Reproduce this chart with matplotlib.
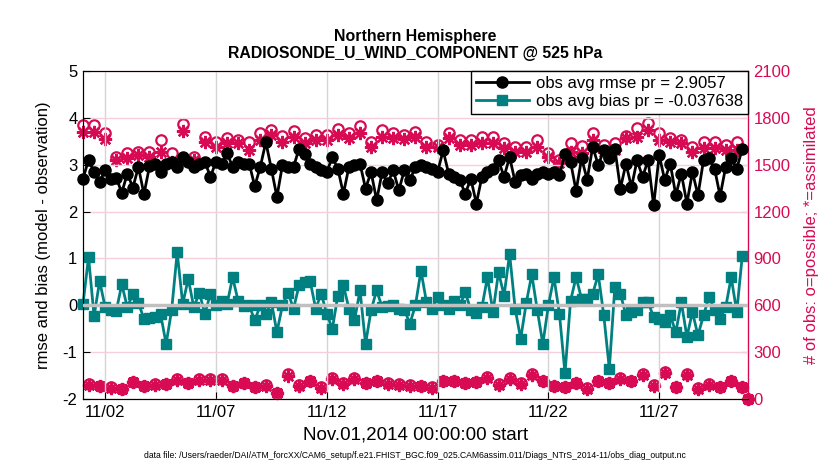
import pandas as pd
import matplotlib
matplotlib.use('Agg')
import matplotlib.pyplot as plt
import matplotlib.dates as mdates

plt.rcParams['font.family'] = ['Liberation Sans', 'DejaVu Sans']
plt.rcParams['axes.unicode_minus'] = False

# 6-hourly bins, Nov 1 00Z .. Dec 1 00Z
times = pd.date_range('2014-11-01 00:00', periods=121, freq='6h')

rmse = [2.70, 3.10, 2.84, 2.63, 2.88, 2.70, 2.72, 2.40, 2.81, 2.51,
        2.95, 2.37, 2.96, 3.02, 2.84, 3.02, 3.06, 2.95, 3.16, 3.06,
        2.95, 3.02, 3.06, 2.74, 3.06, 3.02, 3.25, 2.95, 3.06, 3.02,
        3.02, 2.54, 2.95, 3.48, 2.91, 2.31, 2.99, 2.95, 2.95, 3.34,
        3.23, 3.02, 2.95, 2.88, 2.84, 3.16, 2.91, 2.38, 2.95, 2.99,
        3.02, 2.49, 2.84, 2.24, 2.84, 2.60, 2.88, 2.45, 2.88, 2.67,
        2.95, 2.99, 2.95, 2.91, 2.84, 3.30, 2.81, 2.74, 2.67, 2.38,
        2.70, 2.17, 2.74, 2.84, 2.91, 3.09, 2.74, 3.16, 2.63, 2.78,
        2.81, 2.70, 2.81, 2.84, 2.81, 2.84, 2.77, 3.23, 3.06, 2.44,
        3.13, 2.68, 3.38, 2.99, 3.30, 3.13, 3.34, 2.49, 3.02, 2.52,
        3.09, 2.74, 3.09, 2.13, 3.20, 2.67, 3.02, 2.35, 2.81, 2.17,
        2.84, 2.35, 3.09, 3.13, 2.91, 2.33, 2.95, 3.13, 2.91, 3.34]

bias = [0.03, 1.03, -0.23, 0.52, -0.04, -0.10, -0.12, 0.45, -0.04, 0.25,
        0.05, -0.28, -0.27, -0.25, -0.18, -0.82, -0.10, 1.13, 0.03, 0.57,
        -0.04, 0.27, -0.18, 0.25, 0.00, 0.10, 0.02, 0.60, 0.10, -0.02,
        0.00, -0.32, 0.00, -0.18, 0.07, -0.57, 0.00, 0.27, -0.07, 0.43,
        0.50, 0.52, -0.07, 0.25, -0.18, -0.50, 0.21, 0.43, -0.07, -0.32,
        0.32, -0.82, -0.10, 0.32, -0.04, -0.02, 0.00, -0.07, -0.09, -0.39,
        0.00, 0.74, 0.07, -0.07, 0.18, 0.00, -0.07, 0.10, 0.00, 0.28,
        -0.10, -0.16, -0.04, 0.60, -0.14, 0.71, 0.21, 1.10, -0.07, -0.71,
        0.05, 0.66, -0.10, -0.82, 0.00, 0.60, -0.18, -1.45, 0.10, 0.60,
        0.14, 0.14, 0.25, 0.66, -0.21, -1.35, 0.40, 0.25, -0.21, -0.14,
        -0.10, 0.07, 0.07, -0.25, -0.28, -0.35, -0.21, -0.57, 0.07, -0.67,
        -0.14, -0.64, -0.21, 0.18, -0.10, -0.28, -0.04, 0.60, -0.14, 1.06]

nposs = [1753, 98, 1753, 85, 1700, 76, 1550, 68, 1572, 113,
         1583, 85, 1583, 98, 1658, 98, 1572, 127, 1758, 106,
         1550, 127, 1679, 127, 1647, 127, 1668, 85, 1658, 106,
         1647, 81, 1700, 91, 1722, 42, 1683, 162, 1717, 91,
         1668, 119, 1690, 76, 1690, 134, 1726, 102, 1704, 134,
         1747, 106, 1647, 119, 1722, 102, 1704, 98, 1690, 91,
         1711, 85, 1647, 76, 1626, 119, 1700, 119, 1658, 106,
         1654, 113, 1675, 140, 1675, 98, 1636, 134, 1615, 102,
         1615, 162, 1658, 119, 1572, 85, 1530, 81, 1636, 106,
         1619, 70, 1700, 119, 1626, 106, 1636, 134, 1683, 119,
         1732, 162, 1764, 91, 1700, 176, 1668, 81, 1658, 162,
         1615, 70, 1647, 98, 1647, 81, 1626, 119, 1647, 81, 0]

nused = [1711, 94, 1711, 82, 1662, 73, 1530, 65, 1540, 108,
         1562, 82, 1551, 94, 1583, 95, 1519, 122, 1715, 102,
         1530, 123, 1647, 122, 1615, 123, 1636, 82, 1636, 102,
         1594, 78, 1658, 88, 1690, 40, 1647, 150, 1679, 88,
         1636, 115, 1658, 73, 1658, 129, 1690, 98, 1668, 129,
         1700, 102, 1615, 115, 1679, 98, 1668, 94, 1662, 88,
         1679, 82, 1615, 73, 1615, 115, 1668, 115, 1626, 102,
         1626, 109, 1636, 135, 1636, 94, 1604, 129, 1583, 98,
         1583, 156, 1615, 115, 1551, 82, 1509, 78, 1583, 102,
         1572, 67, 1658, 115, 1583, 102, 1594, 129, 1668, 115,
         1679, 156, 1722, 88, 1658, 170, 1647, 78, 1636, 156,
         1583, 67, 1604, 94, 1604, 78, 1594, 115, 1594, 78, 0]

pink = '#d70a53'
teal = '#008080'

fig = plt.figure(figsize=(8.3, 4.7), dpi=100)
ax = fig.add_axes([0.1, 0.1504, 0.801, 0.6992])
ax2 = ax.twinx()
ax.set_zorder(ax2.get_zorder() + 1)
ax.patch.set_visible(False)

# observation counts on the right axis
ax2.plot(times, nposs, ls='none', marker='o', mfc='none', mec=pink, ms=7.5, mew=1.6, clip_on=False)
ax2.plot(times, nused, ls='none', marker=(8, 2, 0), mec=pink, ms=9.5, mew=1.7, clip_on=False)
ax2.set_ylim(0, 2100)
ax2.set_yticks(range(0, 2101, 300))
ax2.tick_params(axis='y', direction='in', colors=pink, labelsize=12, length=5, pad=4)
ax2.spines['right'].set_color(pink)
ax2.spines['right'].set_linewidth(1.0)
ax2.set_ylabel('# of obs: o=possible; *=assimilated', color=pink, fontsize=12, labelpad=10)

ax.plot(times[:120], rmse, '-o', color='k', ms=8, lw=2, clip_on=False,
        label='obs avg rmse pr = 2.9057')
ax.plot(times[:120], bias, '-s', color=teal, ms=7, lw=2, clip_on=False,
        label='obs avg bias pr = -0.037638')
ax.axhline(0, color='#c0c0c0', lw=2.5, zorder=3)

ax.set_xlim(times[0], times[-1])
ax.set_ylim(-2, 5)
ax.set_yticks(range(-2, 6))
ax.set_xticks(pd.date_range('2014-11-02', periods=6, freq='5D'))
ax.xaxis.set_major_formatter(mdates.DateFormatter('%m/%d'))
ax.tick_params(direction='in', labelsize=12, length=5, pad=4)
ax.tick_params(axis='y', right=False)
ax.spines['right'].set_visible(False)
ax.grid(axis='x', color='#d4d4d4', lw=1)
ax.grid(axis='y', color='#f5d0dc', lw=1)

ax.set_xlabel('Nov.01,2014 00:00:00 start', fontsize=13.5, labelpad=5)
ax.set_ylabel('rmse and bias (model - observation)', fontsize=12, labelpad=8)
ax.set_title('Northern Hemisphere\nRADIOSONDE_U_WIND_COMPONENT @ 525 hPa',
             fontsize=11.4, fontweight='bold', pad=9)

leg = ax.legend(loc='upper right', borderaxespad=0, fancybox=False, edgecolor='k',
                framealpha=1, fontsize=12, handlelength=3.2, borderpad=0.3,
                labelspacing=0.2, handletextpad=0.4)
leg.get_frame().set_linewidth(1.0)

fig.text(0.5, 0.025, 'data file: /Users/raeder/DAI/ATM_forcXX/CAM6_setup/f.e21.FHIST_BGC.f09_025.'
         'CAM6assim.011/Diags_NTrS_2014-11/obs_diag_output.nc', ha='center', fontsize=6.2)

fig.savefig('out.png', dpi=100)
